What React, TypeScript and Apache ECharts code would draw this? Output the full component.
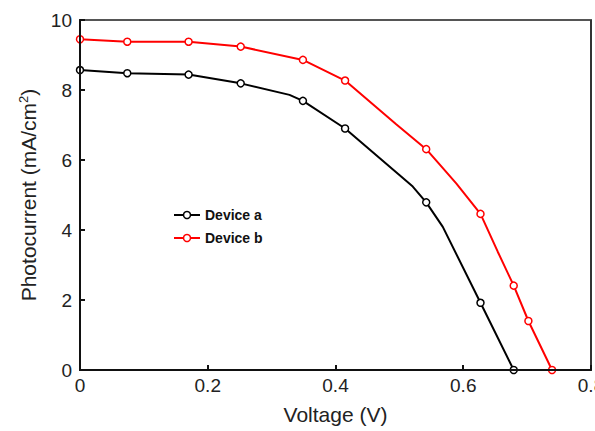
import React, { useEffect, useRef } from "react";
import * as echarts from "echarts";

// Device a: [voltage, photocurrent, marker?]
const deviceAX = [0, 0.074, 0.17, 0.2516, 0.328, 0.349, 0.415, 0.5, 0.521, 0.542, 0.568, 0.627, 0.679];
const deviceAY = [8.57, 8.48, 8.44, 8.19, 7.86, 7.69, 6.9, 5.57, 5.24, 4.79, 4.09, 1.92, 0];
const deviceAMark = [1, 1, 1, 1, 0, 1, 1, 0, 0, 1, 0, 1, 1];

const deviceBX = [0, 0.074, 0.17, 0.2516, 0.349, 0.415, 0.495, 0.542, 0.589, 0.627, 0.654, 0.679, 0.702, 0.739];
const deviceBY = [9.45, 9.38, 9.38, 9.24, 8.86, 8.27, 7.02, 6.31, 5.33, 4.46, 3.38, 2.41, 1.4, 0];
const deviceBMark = [1, 1, 1, 1, 1, 1, 0, 1, 0, 1, 0, 1, 1, 1];

const seriesNames = ["Device a", "Device b"];
const seriesColors = ["#000000", "#ff0000"];
const xTicks = [0, 0.2, 0.4, 0.6, 0.8];
const xRange = [0, 0.8];
const yRange = [0, 10];

function build(xs: number[], ys: number[], marks: number[]) {
  return xs.map((x, i) => ({
    value: [x, ys[i]],
    symbol: marks[i] ? "circle" : "none",
  }));
}

const GRID = { left: 80, right: 4, top: 20, bottom: 61 };
const W = 595;
const H = 431;

export default function App() {
  const ref = useRef<HTMLDivElement>(null);
  useEffect(() => {
    if (!ref.current) return;
    const chart = echarts.init(ref.current, null, { renderer: "svg" });
    const font = "Arial, 'Liberation Sans', sans-serif";
    const legendX = 174;
    const legendY = [215, 238];
    const gx1 = GRID.left;
    const gx2 = W - GRID.right;
    const gy1 = GRID.top;
    const gy2 = H - GRID.bottom;
    const graphics: any[] = [
      {
        type: "line",
        shape: { x1: gx1, y1: gy1, x2: gx2, y2: gy1 },
        style: { stroke: "#555", lineWidth: 2 },
        silent: true,
      },
      {
        type: "line",
        shape: { x1: gx2, y1: gy1, x2: gx2, y2: gy2 },
        style: { stroke: "#333", lineWidth: 2 },
        silent: true,
      },
      ...seriesNames.flatMap((n, i) => [
        {
          type: "line",
          shape: { x1: legendX, y1: legendY[i], x2: legendX + 26, y2: legendY[i] },
          style: { stroke: seriesColors[i], lineWidth: 2 },
          silent: true,
        },
        {
          type: "circle",
          shape: { cx: legendX + 13, cy: legendY[i], r: 3.5 },
          style: { fill: "#fff", stroke: seriesColors[i], lineWidth: 1.5 },
          silent: true,
        },
        {
          type: "text",
          x: legendX + 31,
          y: legendY[i],
          style: {
            text: n,
            fontFamily: font,
            fontWeight: "bold",
            fontSize: 14,
            fill: "#111",
            verticalAlign: "middle",
            align: "left",
          },
          silent: true,
        },
      ]),
    ];
    chart.setOption({
      animation: false,
      backgroundColor: "#fff",
      grid: {
        ...GRID,
        show: true,
        borderColor: "#555",
        borderWidth: 2,
        backgroundColor: "transparent",
        outerBounds: { left: -40, top: -40, right: -40, bottom: -40 },
      },
      graphic: graphics,
      xAxis: {
        type: "value",
        min: xRange[0],
        max: xRange[1],
        interval: 0.2,
        name: "Voltage (V)",
        nameLocation: "middle",
        nameGap: 34,
        nameTextStyle: { fontFamily: font, fontSize: 21, color: "#222" },
        axisLine: { show: true, onZero: false, lineStyle: { color: "#111", width: 2 } },
        axisTick: { show: true, inside: true, length: 5, lineStyle: { color: "#111", width: 2 } },
        axisLabel: {
          fontFamily: font,
          fontSize: 19,
          color: "#222",
          margin: 6,
          hideOverlap: false,
          formatter: (v: number) => (xTicks.includes(Math.round(v * 10) / 10) ? String(Math.round(v * 10) / 10) : ""),
        },
        splitLine: { show: false },
        z: 5,
      },
      yAxis: {
        type: "value",
        min: yRange[0],
        max: yRange[1],
        interval: 2,
        name: "Photocurrent (mA/cm{sup|2})",
        nameLocation: "middle",
        nameGap: 40,
        nameRotate: 90,
        nameTextStyle: {
          fontFamily: font,
          fontSize: 21,
          color: "#222",
          rich: {
            sup: { fontFamily: font, fontSize: 13, color: "#222", verticalAlign: "top", padding: [0, 0, 10, 0] },
          },
        },
        axisLine: { show: true, onZero: false, lineStyle: { color: "#111", width: 2 } },
        axisTick: { show: true, inside: true, length: 5, lineStyle: { color: "#111", width: 2 } },
        axisLabel: { fontFamily: font, fontSize: 19, color: "#222", margin: 8 },
        splitLine: { show: false },
        z: 5,
      },
      series: [
        {
          name: seriesNames[0],
          type: "line",
          data: build(deviceAX, deviceAY, deviceAMark),
          symbolSize: 7,
          showAllSymbol: true,
          lineStyle: { color: seriesColors[0], width: 2 },
          itemStyle: { color: "#fff", borderColor: seriesColors[0], borderWidth: 1.5 },
          emphasis: { disabled: true },
        },
        {
          name: seriesNames[1],
          type: "line",
          data: build(deviceBX, deviceBY, deviceBMark),
          symbolSize: 7,
          showAllSymbol: true,
          lineStyle: { color: seriesColors[1], width: 2 },
          itemStyle: { color: "#fff", borderColor: seriesColors[1], borderWidth: 1.5 },
          emphasis: { disabled: true },
        },
      ],
    });
    return () => chart.dispose();
  }, []);
  return <div ref={ref} style={{ width: W, height: H, position: "absolute", left: 0, top: 0 }} />;
}
